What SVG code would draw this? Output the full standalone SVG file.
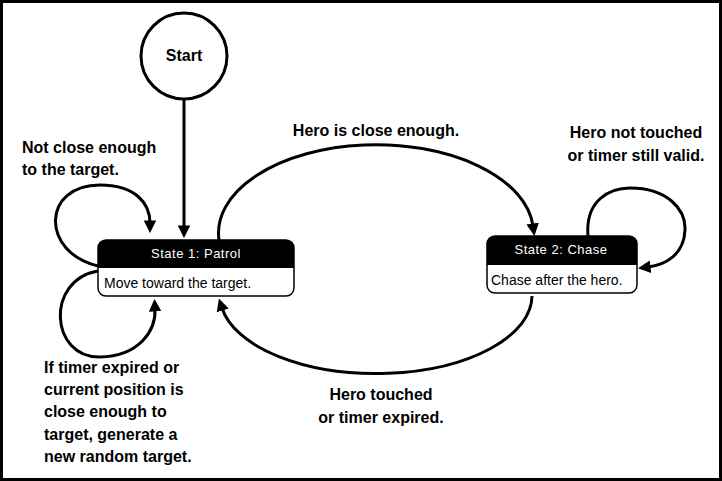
<svg xmlns="http://www.w3.org/2000/svg" width="722" height="481" viewBox="0 0 722 481">
<defs>
<marker id="ah" viewBox="0 0 10 10" refX="2" refY="5" markerWidth="4.2" markerHeight="4.2" markerUnits="strokeWidth" orient="auto">
<path d="M0,0 L10,5 L0,10 Z" fill="#000"/>
</marker>
<style>
.ln{fill:none;stroke:#000;stroke-width:3;marker-end:url(#ah)}
.lbl{font-family:"Liberation Sans",Arial,sans-serif;font-weight:bold;font-size:16px;fill:#000}
.hd{font-family:"Liberation Sans",Arial,sans-serif;font-size:13px;fill:#fff;letter-spacing:0.5px}
.bd{font-family:"Liberation Sans",Arial,sans-serif;font-size:14px;fill:#000}
</style>
</defs>
<rect x="0" y="0" width="722" height="481" fill="#fff"/>
<rect x="1.5" y="1.5" width="719" height="478" fill="none" stroke="#000" stroke-width="3"/>

<g id="connectors">
<path class="ln" d="M184 100 L184 228"/>
<path class="ln" d="M98 266 C40 252,42 185,100 185 C135 185,150 203,150 223"/>
<path class="ln" d="M98 271 C45 280,50 358,100 357 C140 356,156 330,155 309"/>
<path class="ln" d="M219 240 A157 88 0 0 1 533 226"/>
<path class="ln" d="M532 296 A156 78 0 0 1 222 308"/>
<path class="ln" d="M588 236 C585 200,610 188,630 188 C668 188,686 210,685 230 C684 255,665 265,648 267"/>
</g>

<g id="start">
<circle cx="184" cy="56" r="43" fill="#fff" stroke="#000" stroke-width="3"/>
<text class="lbl" x="184" y="61" text-anchor="middle">Start</text>
</g>

<g id="patrol">
<rect x="98" y="240" width="196" height="56" rx="8" fill="#fff" stroke="#000" stroke-width="1.5"/>
<path d="M98 268 L98 248 Q98 240 106 240 L286 240 Q294 240 294 248 L294 268 Z" fill="#000"/>
<text class="hd" x="196" y="258" text-anchor="middle">State 1: Patrol</text>
<text class="bd" x="104" y="288">Move toward the target.</text>
</g>

<g id="chase">
<rect x="487" y="236" width="150" height="57" rx="8" fill="#fff" stroke="#000" stroke-width="1.5"/>
<path d="M487 265 L487 244 Q487 236 495 236 L629 236 Q637 236 637 244 L637 265 Z" fill="#000"/>
<text class="hd" x="561" y="254" text-anchor="middle">State 2: Chase</text>
<text class="bd" x="491" y="285">Chase after the hero.</text>
</g>

<g id="labels">
<text class="lbl" x="376" y="136" text-anchor="middle">Hero is close enough.</text>
<text class="lbl" x="22" y="153">Not close enough</text>
<text class="lbl" x="22" y="175">to the target.</text>
<text class="lbl" x="636" y="138" text-anchor="middle">Hero not touched</text>
<text class="lbl" x="636" y="161" text-anchor="middle">or timer still valid.</text>
<text class="lbl" x="381" y="400" text-anchor="middle">Hero touched</text>
<text class="lbl" x="381" y="423" text-anchor="middle">or timer expired.</text>
<text class="lbl" x="44" y="373">If timer expired or</text>
<text class="lbl" x="44" y="395">current position is</text>
<text class="lbl" x="44" y="417">close enough to</text>
<text class="lbl" x="44" y="440">target, generate a</text>
<text class="lbl" x="44" y="462">new random target.</text>
</g>
</svg>
